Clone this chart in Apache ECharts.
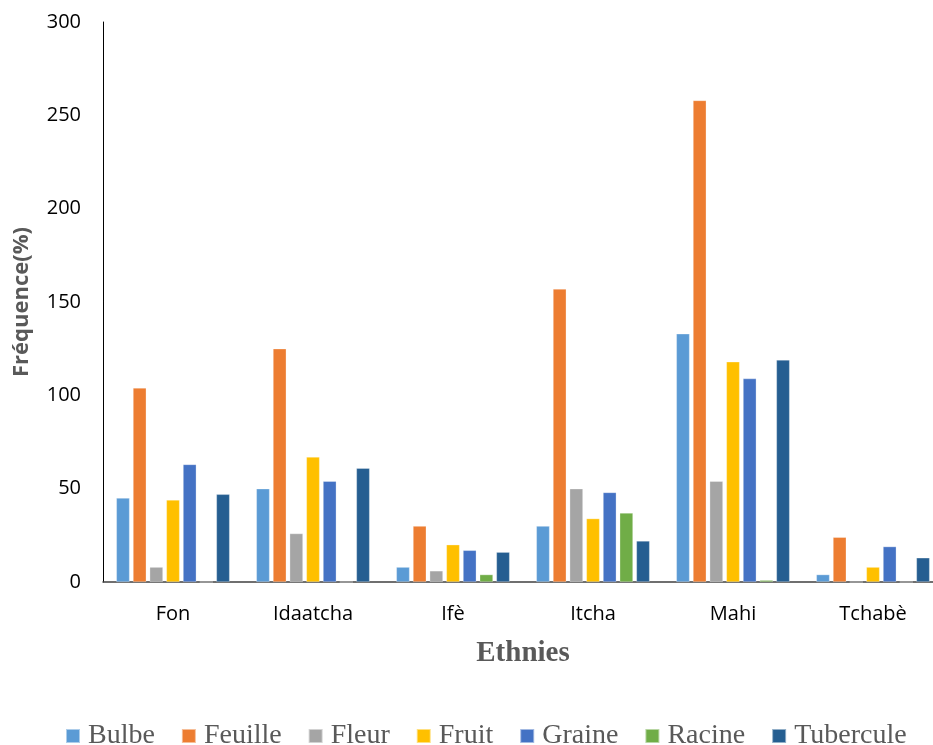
<!DOCTYPE html>
<html>
<head>
<meta charset="utf-8">
<script src="https://cdn.jsdelivr.net/npm/echarts@6/dist/echarts.min.js"></script>
<style>
  html, body { margin: 0; padding: 0; background: #ffffff; }
  #chart { width: 933px; height: 745px; }
</style>
</head>
<body>
<div id="chart"></div>
<script>
// Ethnic groups on the category axis
const ethnies = ['Fon', 'Idaatcha', 'Ifè', 'Itcha', 'Mahi', 'Tchabè'];

// Plant part series
const bulbe     = [45, 50, 8, 30, 133, 4];
const feuille   = [104, 125, 30, 157, 258, 24];
const fleur     = [8, 26, 6, 50, 54, 0];
const fruit     = [44, 67, 20, 34, 118, 8];
const graine    = [63, 54, 17, 48, 109, 19];
const racine    = [0, 0, 4, 37, 1, 0];
const tubercule = [47, 61, 16, 22, 119, 13];

const yTicks = [0, 50, 100, 150, 200, 250, 300];

const seriesDefs = [
  { name: 'Bulbe',     data: bulbe,     color: '#5B9BD5' },
  { name: 'Feuille',   data: feuille,   color: '#ED7D31' },
  { name: 'Fleur',     data: fleur,     color: '#A5A5A5' },
  { name: 'Fruit',     data: fruit,     color: '#FFC000' },
  { name: 'Graine',    data: graine,    color: '#4472C4' },
  { name: 'Racine',    data: racine,    color: '#70AD47' },
  { name: 'Tubercule', data: tubercule, color: '#255E91' }
];

const chart = echarts.init(document.getElementById('chart'));

chart.setOption({
  animation: false,
  backgroundColor: '#ffffff',
  grid: {
    left: 103, width: 840, top: 22, height: 560,
    containLabel: false,
    outerBoundsMode: 'none'
  },
  legend: {
    top: 716,
    left: 60,
    itemWidth: 14,
    itemHeight: 14,
    itemGap: 26,
    icon: 'rect',
    textStyle: {
      fontFamily: 'Liberation Serif', fontSize: 28, lineHeight: 30,
      color: '#595959', padding: [0, 0, 0, 3]
    },
    data: seriesDefs.map(s => s.name)
  },
  xAxis: {
    type: 'category',
    data: ethnies,
    name: 'Ethnies',
    nameLocation: 'middle',
    nameGap: 57,
    nameTextStyle: { fontFamily: 'Liberation Serif', fontSize: 29, fontWeight: 'bold', color: '#595959' },
    axisLine: { lineStyle: { color: '#404040', width: 1.5 } },
    axisTick: { show: false },
    axisLabel: { margin: 22, fontFamily: 'Open Sans', fontSize: 20, color: '#000000' }
  },
  yAxis: {
    type: 'value',
    min: yTicks[0],
    max: yTicks[yTicks.length - 1],
    interval: 50,
    name: 'Fréquence(%)',
    nameLocation: 'middle',
    nameGap: 70,
    nameRotate: 90,
    nameTextStyle: { fontFamily: 'Open Sans', fontSize: 22, fontWeight: 'bold', color: '#595959' },
    axisLine: { show: true, lineStyle: { color: '#000000', width: 1 } },
    axisTick: { show: false },
    splitLine: { show: false },
    axisLabel: { margin: 22, fontFamily: 'Open Sans', fontSize: 20, color: '#000000' }
  },
  series: seriesDefs.map(s => ({
    name: s.name,
    type: 'bar',
    data: s.data,
    barGap: '25%',
    barCategoryGap: '19%',
    itemStyle: { color: s.color, borderColor: 'rgba(255,255,255,0.5)', borderWidth: 0.6 }
  }))
});
</script>
</body>
</html>
